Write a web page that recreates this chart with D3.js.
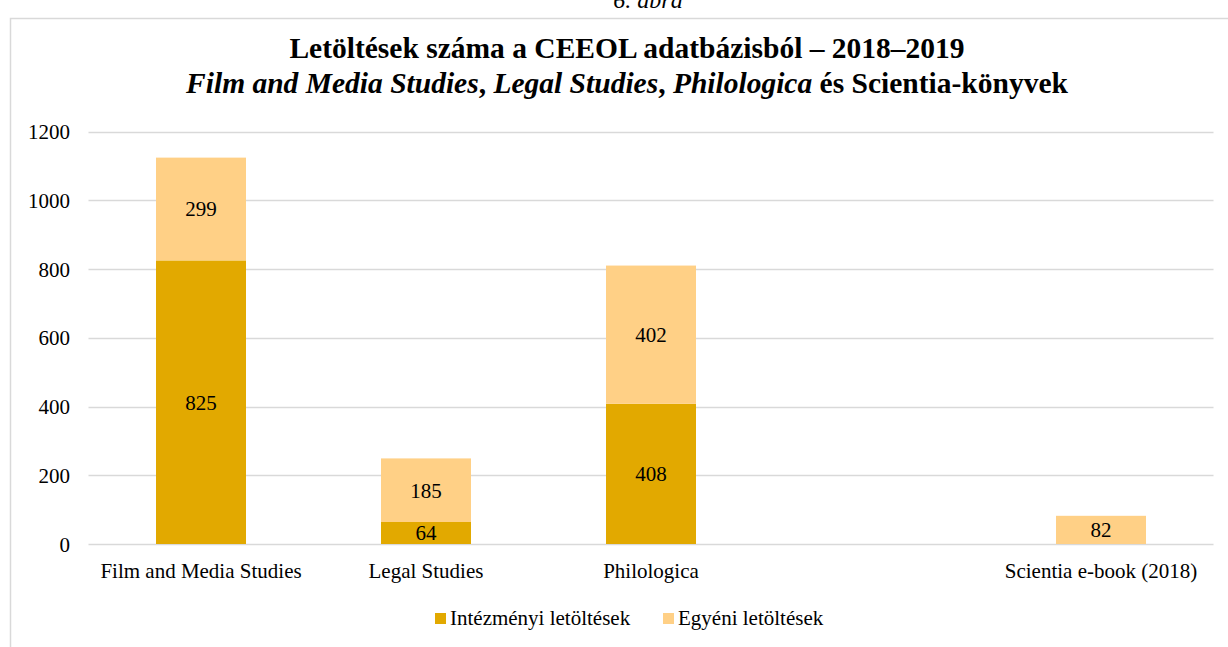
<!DOCTYPE html>
<html><head><meta charset="utf-8">
<script src="https://cdn.jsdelivr.net/npm/d3@7"></script>
<style>body{margin:0;background:#fff;} text{font-family:"Liberation Serif","Times New Roman",serif;}</style>
</head><body>
<svg id="c" width="1228" height="647"></svg>
<script>
const categories = ["Film and Media Studies", "Legal Studies", "Philologica", "", "Scientia e-book (2018)"];
const institutional = [825, 64, 408, null, null];
const individual = [299, 185, 402, null, 82];
const seriesNames = ["Intézményi letöltések", "Egyéni letöltések"];
const colors = ["#e2a900", "#ffd086"];
const yTicks = [0, 200, 400, 600, 800, 1000, 1200];

const svg = d3.select("#c");
svg.append("rect").attr("x",10.5).attr("y",18.5).attr("width",1240).attr("height",700)
  .attr("fill","none").attr("stroke","#d9d9d9").attr("stroke-width",1.5);

svg.append("text").attr("x",648).attr("y",7.5).attr("text-anchor","middle")
  .attr("font-size",24).attr("font-style","italic").text("6. ábra");

svg.append("text").attr("x",627).attr("y",58).attr("text-anchor","middle")
  .attr("font-size",29.5).attr("font-weight","bold").text("Letöltések száma a CEEOL adatbázisból – 2018–2019");
const t2 = svg.append("text").attr("x",627).attr("y",93).attr("text-anchor","middle")
  .attr("font-size",29.5).attr("font-weight","bold");
[["Film and Media Studies",true],[", ",false],["Legal Studies",true],[", ",false],["Philologica",true],[" és Scientia-könyvek",false]]
  .forEach(([s,it])=>t2.append("tspan").attr("font-style",it?"italic":"normal").text(s));

const x = d3.scaleBand().domain(d3.range(categories.length)).range([88.5,1213.5]).paddingInner(0.6).paddingOuter(0.3);
const y = d3.scaleLinear().domain([0,1200]).range([544,131.5]);

svg.append("g").selectAll("line").data(yTicks).join("line")
  .attr("x1",88.5).attr("x2",1213.5).attr("y1",d=>Math.round(y(d))+0.5).attr("y2",d=>Math.round(y(d))+0.5)
  .attr("stroke","#d9d9d9").attr("stroke-width",1.5);

const yAxis = d3.axisLeft(y).tickValues(yTicks).tickFormat(d3.format("d")).tickSize(0).tickPadding(0);
const ga = svg.append("g").attr("transform","translate(70,0)").call(yAxis);
ga.select(".domain").remove();
ga.selectAll("text").attr("font-size",21).attr("fill","#000").attr("dy","0.34em")
  .style("font-family",'"Liberation Serif",serif');

const stacked = categories.map((c,i)=>({i, a: institutional[i]||0, b: individual[i]||0}));
stacked.forEach(d=>{
  const segs = [[0,d.a,institutional[d.i],0],[d.a,d.a+d.b,individual[d.i],1]];
  segs.forEach(([y0,y1,v,k])=>{
    if(v==null) return;
    svg.append("rect").attr("x",x(d.i)).attr("width",x.bandwidth())
      .attr("y",y(y1)).attr("height",y(y0)-y(y1)).attr("fill",colors[k]);
    svg.append("text").attr("x",x(d.i)+x.bandwidth()/2).attr("y",(y(y0)+y(y1))/2)
      .attr("dy","0.35em").attr("text-anchor","middle").attr("font-size",21).text(v);
  });
});

const xAxis = d3.axisBottom(x).tickFormat(i=>categories[i]).tickSize(0).tickPadding(0);
const gx = svg.append("g").attr("transform","translate(0,578)").call(xAxis);
gx.select(".domain").remove();
gx.selectAll("text").attr("font-size",21).attr("fill","#000").attr("dy","0")
  .style("font-family",'"Liberation Serif",serif');

const leg = svg.append("g");
const lx = [435, 663];
seriesNames.forEach((n,k)=>{
  leg.append("rect").attr("x",lx[k]).attr("y",613).attr("width",11).attr("height",11).attr("fill",colors[k]);
  leg.append("text").attr("x",lx[k]+15).attr("y",625).attr("font-size",21).text(n);
});
</script>
</body></html>
